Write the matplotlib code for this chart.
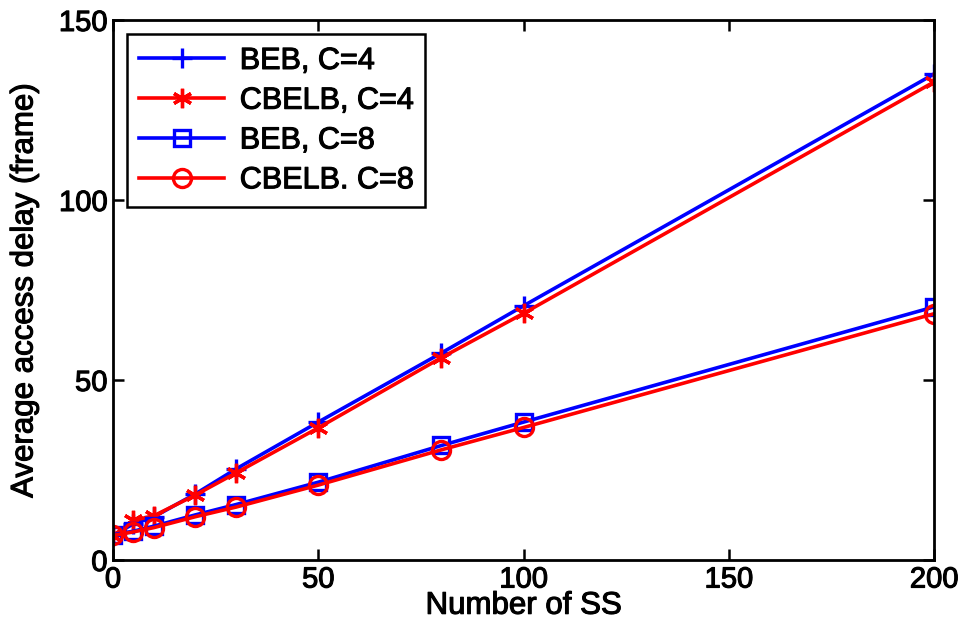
import matplotlib.pyplot as plt
import matplotlib.patheffects as pe

# data
num_ss = [0, 5, 10, 20, 30, 50, 80, 100, 200]
beb_c4 = [6.9, 10.0, 12.0, 18.3, 25.3, 38.3, 57.5, 70.6, 135.0]
cbelb_c4 = [6.7, 11.0, 12.3, 18.0, 24.2, 36.7, 56.2, 68.5, 132.8]
beb_c8 = [7.0, 8.0, 9.4, 12.5, 15.4, 21.6, 31.8, 38.3, 70.3]
cbelb_c8 = [6.8, 7.8, 9.0, 12.0, 14.7, 20.8, 30.6, 36.8, 68.4]

plt.rcParams['font.family'] = ['Liberation Sans', 'DejaVu Sans']

fig = plt.figure(figsize=(9.63, 6.38), dpi=100)
ax = fig.add_axes([0.1173, 0.1223, 0.8527, 0.8464])

ax.plot(num_ss, beb_c4, color='#0000ff', lw=2.6, marker='+', ms=15, mew=2.4,
        label='BEB, C=4')
ax.plot(num_ss, cbelb_c4, color='#ff0000', lw=2.6, marker=(6, 2, 0), ms=14, mew=2.4,
        label='CBELB, C=4')
ax.plot(num_ss, beb_c8, color='#0000ff', lw=2.6, marker='s', ms=11, mew=2.4,
        mfc='none', label='BEB, C=8')
ax.plot(num_ss, cbelb_c8, color='#ff0000', lw=2.6, marker='o', ms=13, mew=2.4,
        mfc='none', label='CBELB. C=8')

ax.set_xlim(0, 200)
ax.set_ylim(0, 150)
ax.set_xticks([0, 50, 100, 150, 200])
ax.set_yticks([0, 50, 100, 150])
ax.tick_params(direction='in', top=True, right=True, length=8, width=1.8,
               labelsize=21, pad=4)
for s in ax.spines.values():
    s.set_linewidth(2)

ax.set_xlabel('Number of SS', fontsize=22.5, labelpad=-2)
ax.set_ylabel('Average access delay (frame)', fontsize=22.5, labelpad=14)

leg = ax.legend(loc='upper left', fontsize=22, handlelength=2.8, fancybox=False,
                edgecolor='black', framealpha=1, borderaxespad=0.45,
                labelspacing=0.32, borderpad=0.4, handletextpad=0.5)
leg.get_frame().set_linewidth(1.8)

# slightly heavier text, like the original rendering
thick = [pe.withStroke(linewidth=0.8, foreground='black')]
texts = ax.get_xticklabels() + ax.get_yticklabels() + leg.get_texts()
texts += [ax.xaxis.label, ax.yaxis.label]
for t in texts:
    t.set_path_effects(thick)

fig.savefig('out.png', dpi=100)
